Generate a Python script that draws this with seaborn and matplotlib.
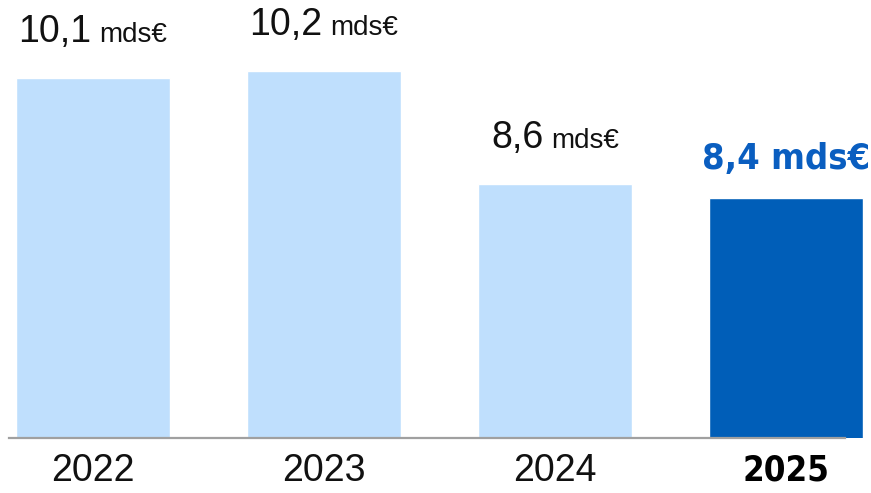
import matplotlib
matplotlib.use("Agg")
import matplotlib.pyplot as plt
import seaborn as sns

# donnees
annees = ["2022", "2023", "2024", "2025"]
valeurs = [10.1, 10.2, 8.6, 8.4]
libelles = ["10,1", "10,2", "8,6", "8,4"]
unite = "mds€"
couleurs = ["#BFDFFD", "#BFDFFD", "#BFDFFD", "#005EB8"]

sns.set_theme(style="white")
plt.rcParams["font.family"] = ["Liberation Sans", "DejaVu Sans"]
gras = ["DejaVu Sans"]

fig = plt.figure(figsize=(8.71, 4.93), dpi=100)
ax = fig.add_axes([0, 55 / 493, 1, 438 / 493])

sns.barplot(x=annees, y=valeurs, hue=annees, palette=couleurs,
            legend=False, width=0.667, saturation=1, ax=ax)

ax.set_xlim(-93 / 231, 778 / 231)
ax.set_ylim(5.0, 5.0 + 438 / 70.6)
ax.set_xlabel("")
ax.set_ylabel("")
ax.set_yticks([])
for s in ["top", "right", "left"]:
    ax.spines[s].set_visible(False)
ax.spines["bottom"].set_color("#A0A0A0")
ax.spines["bottom"].set_linewidth(1.6)
ax.spines["bottom"].set_bounds(-84 / 231, 752 / 231)
ax.spines["bottom"].set_zorder(5)

ax.tick_params(axis="x", length=0, pad=11, labelsize=27, labelcolor="#111111")
ticks = ax.get_xticklabels()
ticks[-1].set_fontfamily(gras)
ticks[-1].set_fontstretch("condensed")
ticks[-1].set_fontweight("bold")
ticks[-1].set_fontsize(25)
ticks[-1].set_color("black")

# etiquettes de valeur
paires = []
for i, (v, lab) in enumerate(zip(valeurs, libelles)):
    if i == len(valeurs) - 1:
        t = ax.annotate(f"{lab} {unite}", xy=(i, v), xytext=(0, 29),
                        textcoords="offset pixels", ha="center", va="baseline",
                        fontsize=26, fontweight="bold", fontstretch="condensed",
                        color="#0A5EC0", family=gras)
    else:
        t1 = ax.annotate(lab, xy=(i, v), xytext=(0, 36), textcoords="offset pixels",
                         ha="left", va="baseline", fontsize=27, color="#111111")
        t2 = ax.annotate(unite, xy=(i, v), xytext=(0, 36), textcoords="offset pixels",
                         ha="left", va="baseline", fontsize=20, color="#111111")
        paires.append((t1, t2))

fig.canvas.draw()
r = fig.canvas.get_renderer()
for t1, t2 in paires:
    w1 = t1.get_window_extent(r).width
    w2 = t2.get_window_extent(r).width
    total = w1 + 8 + w2
    t1.xyann = (-total / 2, 36)
    t2.xyann = (-total / 2 + w1 + 8, 36)

fig.savefig("out.png", dpi=100)
